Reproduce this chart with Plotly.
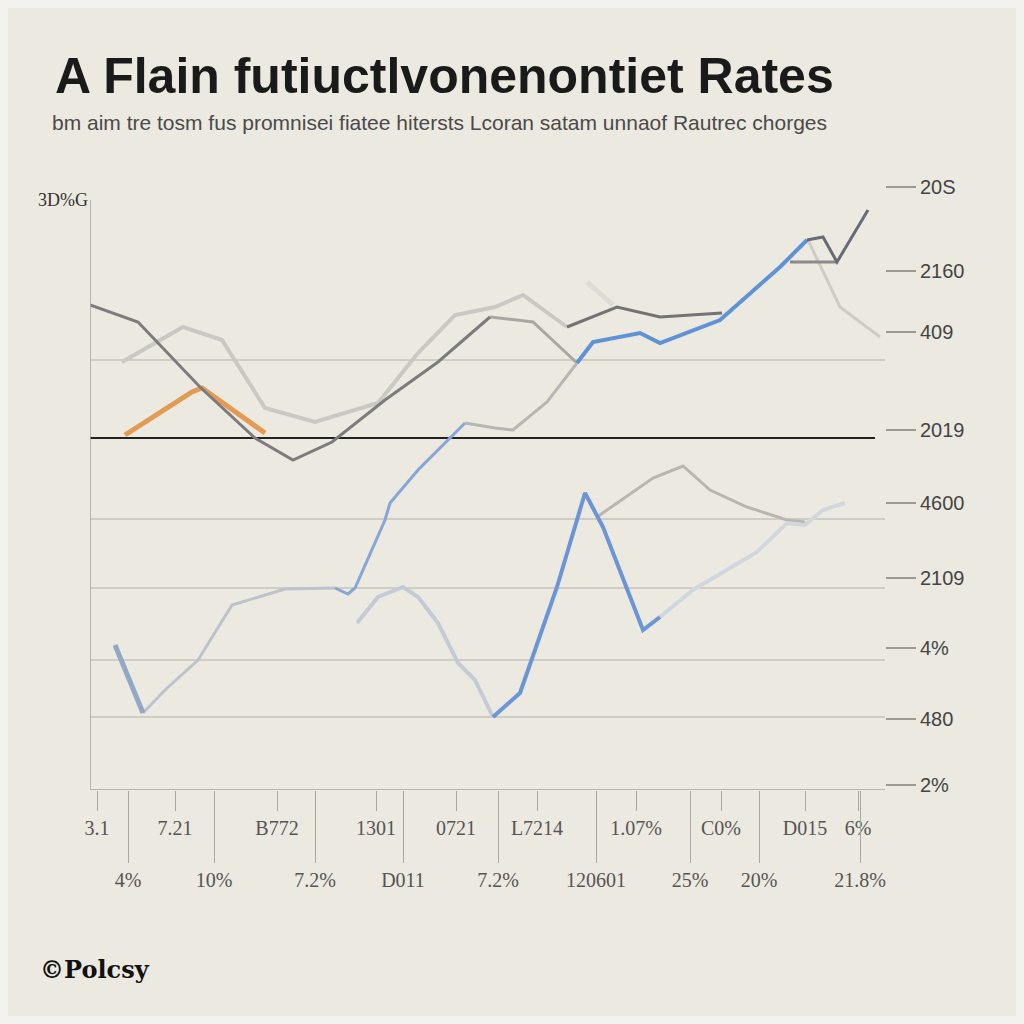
import plotly.graph_objects as go

# ---- data (x: period index units, y: rate units) ----
dark_x = [0, 37, 48, 110, 165, 203, 242, 295, 348, 400]
dark_y = [485, 472, 468, 403, 352, 330, 348, 390, 428, 473]
dark_tail_x = [400, 443, 487]
dark_tail_y = [473, 468, 427]

light_x = [32, 93, 132, 175, 225, 288, 328, 365, 405, 433, 477]
light_y = [428, 463, 450, 382, 368, 387, 437, 475, 483, 495, 463]
mid_x = [477, 527, 570, 632]
mid_y = [463, 483, 473, 477]

blue_a_x = [25, 53]
blue_a_y = [145, 77]
blue_b_x = [53, 75, 108, 142, 195, 245]
blue_b_y = [77, 100, 130, 185, 201, 202]
blue_c_x = [245, 258, 265, 295, 300, 328, 360, 375]
blue_c_y = [202, 196, 202, 270, 287, 320, 352, 367]
blue_d_x = [375, 405, 423, 457, 487]
blue_d_y = [367, 362, 360, 388, 427]
blue_e_x = [487, 503, 550, 570, 630, 690, 717]
blue_e_y = [427, 448, 457, 447, 470, 523, 550]

top_x = [717, 733, 747, 778]
top_y = [550, 553, 528, 580]
flat_x = [700, 747]
flat_y = [528, 528]
drop_x = [718, 750, 790]
drop_y = [550, 483, 453]
faint_x = [497, 523]
faint_y = [508, 485]

orange_x = [35, 102, 112, 175]
orange_y = [355, 398, 402, 357]

low_a_x = [267, 288, 313, 328, 348, 368, 385, 403]
low_a_y = [167, 193, 203, 193, 167, 127, 110, 73]
low_b_x = [403, 430, 467, 495, 513, 553, 570]
low_b_y = [73, 97, 203, 297, 263, 160, 173]
low_c_x = [570, 603, 667, 697, 715, 733, 755]
low_c_y = [173, 200, 238, 267, 265, 280, 287]

grey_x = [507, 563, 593, 620, 657, 697, 715]
grey_y = [273, 312, 324, 300, 283, 270, 268]

grid_vals = [430, 271, 202, 130, 73]
ref_val = 352

right_vals = [603, 519, 458, 360, 287, 212, 142, 71, 5]
right_text = ["20S", "2160", "409", "2019", "4600", "2109", "4%", "480", "2%"]

row1_vals = [7, 85, 187, 286, 366, 447, 546, 631, 715, 768]
row1_text = ["3.1", "7.21", "B772", "1301", "0721", "L7214", "1.07%", "C0%", "D015", "6%"]
row2_vals = [38, 124, 225, 313, 408, 506, 600, 669, 770]
row2_text = ["4%", "10%", "7.2%", "D011", "7.2%", "120601", "25%", "20%", "21.8%"]

BG = "#ece9e1"
fig = go.Figure()

def line(x, y, color, width):
    fig.add_trace(go.Scatter(x=x, y=y, mode="lines", line=dict(color=color, width=width),
                             hoverinfo="skip", showlegend=False))

line(light_x, light_y, "#cac8c2", 4)
line(faint_x, faint_y, "#dddbd5", 5)
line(drop_x, drop_y, "#cfccc6", 3)
line(grey_x, grey_y, "#b9b6af", 3)
line(low_a_x, low_a_y, "#c3ccd6", 4)
line(low_c_x, low_c_y, "#d0d7de", 4)
line(low_b_x, low_b_y, "#6b95d6", 4)
line(dark_tail_x, dark_tail_y, "#a9a7a2", 3)
line(blue_b_x, blue_b_y, "#bcc3cb", 3)
line(blue_a_x, blue_a_y, "#92a9c6", 5)
line(blue_c_x, blue_c_y, "#86a6d6", 3)
line(blue_d_x, blue_d_y, "#b7b6b2", 3)
line(mid_x, mid_y, "#737373", 3)
line(blue_e_x, blue_e_y, "#5f92d6", 4)
line(flat_x, flat_y, "#8a8a8a", 3)
line(top_x, top_y, "#676b74", 3)
line(orange_x, orange_y, "#e39a52", 5)
line(dark_x, dark_y, "#7c7c7c", 3)

# dummy trace for the overlay axes
fig.add_trace(go.Scatter(x=[None], y=[None], xaxis="x2", yaxis="y2", showlegend=False,
                         hoverinfo="skip"))

shapes = []
for g in grid_vals:
    shapes.append(dict(type="line", xref="x", yref="y", x0=0, x1=795, y0=g, y1=g,
                       line=dict(color="#b4b1aa", width=1.2), layer="below"))
shapes.append(dict(type="line", xref="x", yref="y", x0=0, x1=785, y0=ref_val, y1=ref_val,
                   line=dict(color="#222222", width=2), layer="below"))
shapes.append(dict(type="line", xref="x", yref="y", x0=0, x1=0, y0=0, y1=590,
                   line=dict(color="#a8a59f", width=1.5)))
shapes.append(dict(type="line", xref="x", yref="y", x0=0, x1=795, y0=0, y1=0,
                   line=dict(color="#a8a59f", width=1.5)))
shapes.append(dict(type="rect", xref="paper", yref="paper",
                   x0=(4 - 90) / 795, x1=(1020 - 90) / 795,
                   y0=(790 - 1020) / 610, y1=(790 - 4) / 610,
                   line=dict(color="#f4f2ee", width=8), layer="below"))

annotations = [
    dict(text="bm aim tre tosm fus promnisei fiatee hitersts Lcoran satam unnaof Rautrec chorges",
         xref="paper", yref="paper", x=(50 - 90) / 795, y=(790 - 122) / 610,
         xanchor="left", yanchor="middle", showarrow=False,
         font=dict(family="Liberation Sans", size=21, color="#4a4a4a")),
    dict(text="3D%G", xref="paper", yref="paper", x=(90 - 90) / 795, y=(790 - 200) / 610,
         xanchor="right", yanchor="middle", showarrow=False,
         font=dict(family="Liberation Serif", size=18, color="#333333")),
    dict(text="<b>©Polcsy</b>", xref="paper", yref="paper", x=(38 - 90) / 795, y=(790 - 970) / 610,
         xanchor="left", yanchor="middle", showarrow=False,
         font=dict(family="DejaVu Serif", size=24, color="#111111")),
]

fig.update_layout(
    width=1024, height=1024,
    margin=dict(l=90, r=1024 - 885, t=180, b=1024 - 790, pad=0),
    paper_bgcolor=BG, plot_bgcolor=BG,
    title=dict(text="<b>A Flain futiuctlvonenontiet Rates</b>", x=55 / 1024, xanchor="left",
               y=1 - 75 / 1024, yanchor="middle", yref="container",
               font=dict(family="Liberation Sans", size=50, color="#1a1a1a")),
    shapes=shapes, annotations=annotations,
    xaxis=dict(range=[0, 795], showgrid=False, zeroline=False, showline=False,
               tickmode="array", tickvals=row1_vals, ticktext=row1_text,
               ticks="outside", ticklen=20, tickcolor="#aaa7a1", tickwidth=1,
               tickfont=dict(family="Liberation Serif", size=20, color="#555555")),
    xaxis2=dict(range=[0, 795], overlaying="x", anchor="y2", side="bottom",
                showgrid=False, zeroline=False, showline=False,
                tickmode="array", tickvals=row2_vals, ticktext=row2_text,
                ticks="outside", ticklen=72, tickcolor="#aaa7a1", tickwidth=1,
                tickfont=dict(family="Liberation Serif", size=20, color="#555555")),
    yaxis=dict(range=[0, 610], showgrid=False, zeroline=False, showline=False,
               showticklabels=False, ticks=""),
    yaxis2=dict(range=[0, 610], overlaying="y", side="right", anchor="x2",
                showgrid=False, zeroline=False, showline=False,
                tickmode="array", tickvals=right_vals, ticktext=right_text,
                ticks="outside", ticklen=30, tickcolor="#9d9a94", tickwidth=2,
                tickfont=dict(family="Liberation Sans", size=20, color="#444444")),
)

fig.write_html("out.html")
